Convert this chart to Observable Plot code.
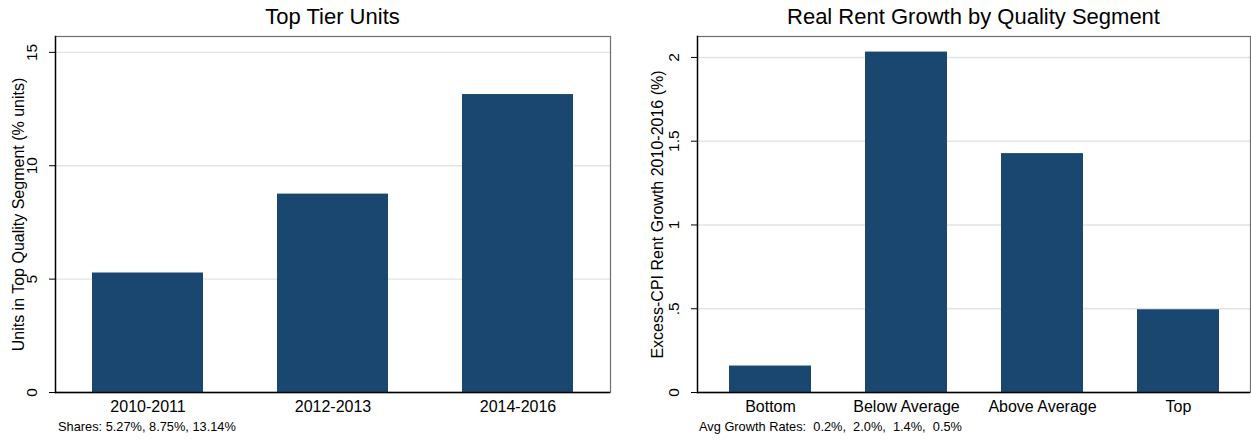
<!DOCTYPE html>
<html><head><meta charset="utf-8">
<script src="https://cdn.jsdelivr.net/npm/d3@7"></script>
<script src="https://cdn.jsdelivr.net/npm/@observablehq/plot@0.6"></script>
<style>
body{margin:0;background:#fff;font-family:"Liberation Sans",Arial,sans-serif;}
#wrap{position:relative;width:1251px;height:440px;overflow:hidden;}
.panel{position:absolute;top:0;height:440px;}
.title{position:absolute;top:0;height:30px;line-height:33px;font-size:22px;text-align:center;color:#000;white-space:nowrap;}
.caption{position:absolute;top:419px;line-height:15px;font-size:12.8px;white-space:pre;color:#000;}
.panel svg{position:absolute;top:30px;left:0;}
</style></head>
<body>
<div id="wrap">
  <div class="panel" id="p1" style="left:0;width:625px;"></div>
  <div class="panel" id="p2" style="left:625px;width:626px;"></div>
</div>
<script>
// ---- data ----
const periods = ["2010-2011", "2012-2013", "2014-2016"];
const shares = [5.27, 8.75, 13.14];
const segments = ["Bottom", "Below Average", "Above Average", "Top"];
const growth = [0.158, 2.032, 1.426, 0.494];
const ticks1 = [0, 5, 10, 15];
const ticks2 = [0, 0.5, 1, 1.5, 2];

const navy = "#1a476f";
const gridColor = "#e3e3e3";
const font = "'Liberation Sans', Arial, sans-serif";

function stataFmt(d) { return d === 0 ? "0" : String(d).replace(/^0\./, "."); }

function panel(el, opts) {
  const t = document.createElement("div");
  t.className = "title";
  t.style.left = opts.marginLeft + "px";
  t.style.width = (opts.width - opts.marginLeft - opts.marginRight) + "px";
  t.textContent = opts.title;
  el.appendChild(t);

  const data = opts.cats.map((c, i) => ({cat: c, value: opts.values[i]}));
  const svg = Plot.plot({
    width: opts.width,
    height: 388,
    marginTop: 6,
    marginBottom: 26,
    marginLeft: opts.marginLeft,
    marginRight: opts.marginRight,
    style: {fontFamily: font, color: "#000", background: "#fff", overflow: "visible"},
    x: {domain: opts.cats, paddingInner: 0.4, paddingOuter: opts.paddingOuter, label: null},
    y: {domain: [0, opts.ymax], label: null},
    marks: [
      Plot.gridY(opts.ticks, {stroke: gridColor, strokeOpacity: 1, strokeWidth: 1.4}),
      Plot.barY(data, {x: "cat", y: "value", fill: navy}),
      Plot.frame({stroke: "#6e6e6e", strokeWidth: 1.2}),
      Plot.ruleY([0], {stroke: "#000", strokeWidth: 1.4}),
      Plot.frame({anchor: "left", stroke: "#000", strokeWidth: 1.4}),
      Plot.axisY(opts.ticks, {
        tickRotate: -90, tickSize: 6, tickPadding: 13, fontSize: 15.5,
        tickFormat: opts.tickFormat, stroke: "#000",
        label: opts.ylabel, labelAnchor: "center", labelOffset: opts.labelOffset, labelArrow: "none"
      }),
      Plot.axisX({tickSize: 0, tickPadding: 8, fontSize: 16, label: null})
    ]
  });
  svg.querySelectorAll("[aria-label='y-axis label'] text, g[aria-label='y-axis label']").forEach(n => n.setAttribute("font-size", 16));
  el.appendChild(svg);

  const c = document.createElement("div");
  c.className = "caption";
  c.style.left = opts.captionLeft + "px";
  c.textContent = opts.caption;
  el.appendChild(c);
}

panel(document.getElementById("p1"), {
  title: "Top Tier Units",
  width: 625, marginLeft: 55, marginRight: 15, paddingOuter: 0.2,
  cats: periods, values: shares, ymax: 15.7, ticks: ticks1,
  tickFormat: d => String(d),
  ylabel: "Units in Top Quality Segment (% units)", labelOffset: 43,
  caption: "Shares: " + shares.map(v => v.toFixed(2) + "%").join(", "),
  captionLeft: 58
});

panel(document.getElementById("p2"), {
  title: "Real Rent Growth by Quality Segment",
  width: 626, marginLeft: 72, marginRight: 1, paddingOuter: 0.23,
  cats: segments, values: growth, ymax: 2.125, ticks: ticks2,
  tickFormat: stataFmt,
  ylabel: "Excess-CPI Rent Growth 2010-2016 (%)", labelOffset: 46,
  caption: "Avg Growth Rates:  " + growth.map(v => v.toFixed(1) + "%").join(",  "),
  captionLeft: 74
});
</script>
</body></html>
